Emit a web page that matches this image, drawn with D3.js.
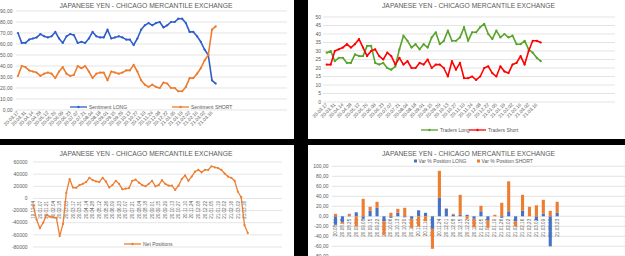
<!DOCTYPE html>
<html>
<head>
<meta charset="utf-8">
<script src="https://cdn.jsdelivr.net/npm/d3@7"></script>
<style>
body{margin:0;background:#000}
svg{display:block}
text{font-family:"Liberation Sans",Arial,sans-serif;fill:#595959}
</style>
</head>
<body>
<svg id="c" width="625" height="256"></svg>
<script>
// weekly report dates (yy.mm.dd)
var weeks = ["19.12.24","19.12.31","20.01.07","20.01.14","20.01.21","20.01.28","20.02.04","20.02.11","20.02.18","20.02.25",
  "20.03.03","20.03.10","20.03.17","20.03.24","20.03.31","20.04.07","20.04.14","20.04.21","20.04.28","20.05.05",
  "20.05.12","20.05.19","20.05.26","20.06.02","20.06.09","20.06.16","20.06.23","20.06.30","20.07.07","20.07.14",
  "20.07.21","20.07.28","20.08.04","20.08.11","20.08.18","20.08.25","20.09.01","20.09.08","20.09.15","20.09.22",
  "20.09.29","20.10.06","20.10.13","20.10.20","20.10.27","20.11.03","20.11.10","20.11.17","20.11.24","20.12.01",
  "20.12.08","20.12.15","20.12.22","20.12.29","21.01.05","21.01.12","21.01.19","21.01.26","21.02.02","21.02.09",
  "21.02.16","21.02.23","21.03.02","21.03.09","21.03.16","21.03.23"];
var topDates = weeks.slice(12);
var barDates = weeks.slice(33);

var sentLong = [70,61,61,64,65,66,69,67,66,67, 71,65,61,67,69,68,61,62,61,65,
  71,67,66,66,73,65,66,67,66,64, 64,59,65,73,77,79,77,79,80,75,
  77,80,80,83,83,79,71,71,67,62, 55,50,27,24];
var sentShort = [31,40,39,36,35,34,31,33,34,33, 29,35,39,33,31,32,40,38,40,35,
  29,33,34,34,27,35,34,33,34,36, 36,41,35,27,23,21,23,21,20,25,
  24,20,20,17,17,21,29,29,33,38, 45,50,73,76];

var tradLong = [29,30,24,26,26,23,23,28,27,27, 33,33,23,22,23,20,19,21,31,39,
  36,32,34,31,34,32,38,41,34,36, 42,36,36,38,44,36,41,41,44,46,
  40,37,42,38,40,38,39,34,34,36, 31,29,26,24];
var tradShort = [22,22,30,31,32,34,32,34,37,32, 27,30,31,27,25,29,27,22,26,22,
  24,20,20,23,22,25,20,22,22,20, 15,24,19,23,14,14,15,13,15,20,
  21,17,15,21,18,17,22,23,27,22, 30,36,36,35];

var netPos = [-12000,-35000,-49000,-40000,-27000,-30000,-31000,-32000,-62000,-42000,
  9000,32000,18000,17500,22000,24000,27000,34000,30000,28000,
  27000,34000,28000,18000,22000,29000,24000,15000,16000,17000,
  29000,31000,26000,22000,20000,24000,29000,20000,22000,30000,
  24000,21000,21000,14000,21000,32000,38000,29000,36000,44000,
  47000,43000,47000,47000,53000,51000,50000,47000,41000,36000,
  34000,29000,11000,2000,-44000,-57000];

var varLong = [-17,-12,2,8,-5,11,17,-10,-3,7, -2,-5,12,7,-25,37,15,3,3,3,
  -5,10,-8,0,-3,10,-10,11,0,-8, 5,-60,7];
var varShort = [5,-3,3,-20,35,8,12,-27,7,8, 17,-18,-20,-10,-40,54,1,2,40,-5,
  -17,11,-15,3,27,60,-10,32,19,22, 28,11,22];

var yTicks1 = d3.range(0, 91, 10);
var yTicks2 = d3.range(0, 51, 5);
var yTicks3 = d3.range(-80000, 60001, 20000);
var yTicks4 = d3.range(-80, 101, 20);

var TITLE = "JAPANESE YEN - CHICAGO MERCANTILE EXCHANGE";
var BLUE = "#2f5ec9", ORANGE = "#ed7d31", GREEN = "#58a32c", RED = "#ff0000";
var comma = function(v){ return d3.format(".2f")(v).replace(".", ",").replace("\u2212","-"); };

var svg = d3.select("#c");
svg.append("rect").attr("width", 625).attr("height", 256).attr("fill", "#000");
[[0,0,294,139],[308,0,317,139],[0,145,294,111],[308,145,317,111]].forEach(function(p){
  svg.append("rect").attr("x",p[0]).attr("y",p[1]).attr("width",p[2]).attr("height",p[3]).attr("fill","#fff");
});

function title(cx, y){
  svg.append("text").attr("x", cx).attr("y", y).attr("text-anchor","middle")
    .attr("font-size", 7).attr("textLength", 173).attr("lengthAdjust","spacingAndGlyphs")
    .text(TITLE);
}

function grid(ticks, y, x0, x1, lx, fmt){
  var g = svg.append("g");
  g.selectAll("line").data(ticks).join("line")
    .attr("x1", x0).attr("x2", x1).attr("y1", function(d){return y(d);}).attr("y2", function(d){return y(d);})
    .attr("stroke", "#d9d9d9").attr("stroke-width", 0.7);
  g.selectAll("text").data(ticks).join("text")
    .attr("x", lx).attr("y", function(d){return y(d);}).attr("dy","0.35em")
    .attr("text-anchor","end").attr("font-size", 5).text(fmt);
}

function series(vals, x, y, color, w){
  var line = d3.line().x(function(d,i){return x(i);}).y(function(d){return y(d);});
  svg.append("path").datum(vals).attr("d", line).attr("fill","none")
    .attr("stroke", color).attr("stroke-width", w).attr("stroke-linejoin","round");
  svg.append("g").selectAll("circle").data(vals).join("circle")
    .attr("cx", function(d,i){return x(i);}).attr("cy", function(d){return y(d);})
    .attr("r", 1.1).attr("fill", color);
}

function diagLabels(dates, x, y0){
  svg.append("g").selectAll("text").data(dates).join("text")
    .filter(function(d,i){return i % 2 === 0;})
    .attr("transform", function(d){ return "translate(" + (x(dates.indexOf(d)) + 1) + "," + y0 + ") rotate(-45)"; })
    .attr("text-anchor","end").attr("font-size", 4.8).text(function(d){return d;});
}

function lineLegend(items, y){
  items.forEach(function(it){
    svg.append("line").attr("x1", it.x).attr("x2", it.x + 17).attr("y1", y).attr("y2", y)
      .attr("stroke", it.color).attr("stroke-width", 1.3);
    svg.append("circle").attr("cx", it.x + 8.5).attr("cy", y).attr("r", 1.2).attr("fill", it.color);
    svg.append("text").attr("x", it.x + 19).attr("y", y).attr("dy","0.35em").attr("font-size", 5).text(it.label);
  });
}

// ---- chart 1: sentiment
var y1 = d3.scaleLinear().domain([0, 90]).range([110, 11]);
var x1 = d3.scaleLinear().domain([0, 72]).range([18, 286.6]);
title(146, 8.3);
grid(yTicks1, y1, 16, 287, 12.5, comma);
series(sentLong, x1, y1, BLUE, 1.6);
series(sentShort, x1, y1, ORANGE, 1.6);
diagLabels(topDates, x1, 113);
lineLegend([{x:70, color:BLUE, label:"Sentiment LONG"},{x:172, color:ORANGE, label:"Sentiment SHORT"}], 107);

// ---- chart 2: traders
var y2 = d3.scaleLinear().domain([0, 50]).range([102, 17]);
var x2 = d3.scaleLinear().domain([0, 71]).range([326.7, 613.5]);
title(468.5, 8.3);
grid(yTicks2, y2, 323, 615, 321, function(d){return d;});
series(tradLong, x2, y2, GREEN, 1.6);
series(tradShort, x2, y2, RED, 1.6);
diagLabels(topDates, x2, 105);
lineLegend([{x:421, color:GREEN, label:"Traders Long"},{x:469, color:RED, label:"Traders Short"}], 130);

// ---- chart 3: net positions
var y3 = d3.scaleLinear().domain([-80000, 60000]).range([247, 162]);
var x3 = d3.scaleLinear().domain([0, 75]).range([33.3, 280.8]);
title(146, 156.3);
grid(yTicks3, y3, 33, 282, 27.5, function(d){return String(d);});
svg.append("g").selectAll("text").data(weeks).join("text")
  .filter(function(d,i){return i % 2 === 0;})
  .attr("transform", function(d){ return "translate(" + (x3(weeks.indexOf(d)) + 1.6) + "," + (y3(0) + 2.5) + ") rotate(-90)"; })
  .attr("text-anchor","end").attr("font-size", 4.6).text(function(d){return d;});
series(netPos, x3, y3, ORANGE, 1.3);
lineLegend([{x:124, color:ORANGE, label:"Net Positions"}], 244);

// ---- chart 4: weekly variation of positions
var y4 = d3.scaleLinear().domain([-80, 100]).range([256.3, 166.3]);
var x4 = d3.scaleBand().domain(d3.range(42)).range([332, 623]).paddingInner(0.55).paddingOuter(0.275);
title(468.5, 156.3);
grid(yTicks4, y4, 332, 625, 328.5, comma);
svg.append("g").selectAll("text").data(barDates).join("text")
  .attr("transform", function(d,i){ return "translate(" + (x4(i) + x4.bandwidth()/2 + 1.6) + "," + (y4(0) + 2.5) + ") rotate(-90)"; })
  .attr("text-anchor","end").attr("font-size", 4.6).text(function(d){return d;});
var rows = barDates.map(function(d,i){ return {L: varLong[i], S: varShort[i]}; });
var stacked = d3.stack().keys(["L","S"]).offset(d3.stackOffsetDiverging)(rows);
var barColor = {L: "#4472c4", S: ORANGE};
stacked.forEach(function(s){
  svg.append("g").attr("fill", barColor[s.key]).selectAll("rect").data(s).join("rect")
    .attr("x", function(d,i){return x4(i);}).attr("width", x4.bandwidth())
    .attr("y", function(d){return y4(Math.max(d[0], d[1]));})
    .attr("height", function(d){return Math.abs(y4(d[0]) - y4(d[1]));});
});
[{x:414, color:"#4472c4", label:"Var % Position LONG"},{x:477, color:ORANGE, label:"Var % Position SHORT"}].forEach(function(it){
  svg.append("rect").attr("x", it.x).attr("y", 159.5).attr("width", 3).attr("height", 3).attr("fill", it.color);
  svg.append("text").attr("x", it.x + 4.5).attr("y", 161).attr("dy","0.35em").attr("font-size", 5).text(it.label);
});
</script>
</body>
</html>
